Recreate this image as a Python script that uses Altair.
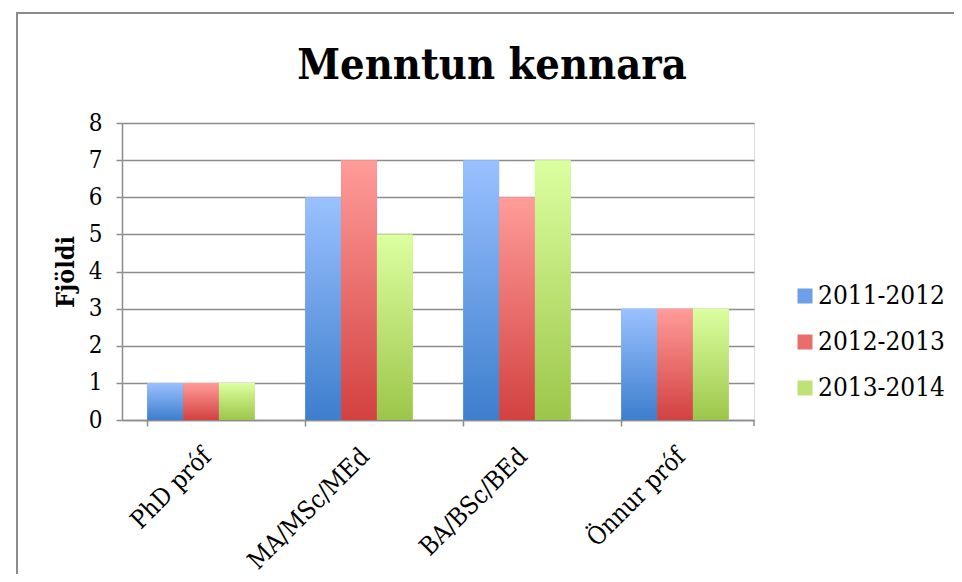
import altair as alt
import pandas as pd

categories = ["PhD próf", "MA/MSc/MEd", "BA/BSc/BEd", "Önnur próf"]
series = ["2011-2012", "2012-2013", "2013-2014"]
values_2011 = [1, 6, 7, 3]
values_2012 = [1, 7, 6, 3]
values_2013 = [1, 5, 7, 3]
y_ticks = [0, 1, 2, 3, 4, 5, 6, 7, 8]
chart_title = "Menntun kennara"

mid_colors = ["#6b9fe6", "#e86e6b", "#bfe277"]
grad_top = ["#9ac1ff", "#ff9c99", "#dcffa0"]
grad_bottom = ["#3d7ecd", "#d24140", "#9cc64a"]

rows = []
for s, vals in zip(series, [values_2011, values_2012, values_2013]):
    for c, v in zip(categories, vals):
        rows.append({"cat": c, "series": s, "value": v})
df = pd.DataFrame(rows)

FONT = "DejaVu Serif Condensed"
GRID = "#8c8c8c"

x_enc = alt.X(
    "cat:N",
    sort=categories,
    scale=alt.Scale(paddingInner=0.32, paddingOuter=0.16),
    axis=alt.Axis(
        title=None,
        labelAngle=-45,
        labelAlign="right",
        labelBaseline="middle",
        labelFont=FONT,
        labelFontSize=25,
        labelColor="black",
        labelPadding=26,
        labelOffset=6,
        bandPosition=0,
        tickSize=6,
        tickColor=GRID,
        tickWidth=1.5,
        domainColor=GRID,
        domainWidth=1.5,
        grid=False,
    ),
)
xo_enc = alt.XOffset("series:N", sort=series, scale=alt.Scale(domain=series, paddingInner=0, paddingOuter=0))
y_enc = alt.Y(
    "value:Q",
    scale=alt.Scale(domain=[0, 8]),
    axis=alt.Axis(
        title="Fjöldi",
        titleFont=FONT,
        titleFontSize=25,
        titleFontWeight="bold",
        titleColor="black",
        titlePadding=10,
        labelFont=FONT,
        labelFontSize=24,
        labelColor="black",
        labelPadding=14,
        labelOverlap=False,
        values=y_ticks,
        tickSize=6,
        tickColor=GRID,
        tickWidth=1.5,
        domainColor=GRID,
        domainWidth=1.5,
        gridColor=GRID,
        gridWidth=1.5,
    ),
)

base = alt.Chart(df).mark_bar().encode(
    x=x_enc,
    xOffset=xo_enc,
    y=y_enc,
    color=alt.Color(
        "series:N",
        sort=series,
        scale=alt.Scale(domain=series, range=mid_colors),
        legend=alt.Legend(
            title=None,
            orient="none",
            legendX=670,
            legendY=160,
            symbolType="square",
            symbolSize=225,
            symbolStrokeWidth=0,
            labelFont=FONT,
            labelFontSize=26,
            labelColor="black",
            labelOffset=0,
            rowPadding=20,
        ),
    ),
)

layers = [base]
for s, top, bot in zip(series, grad_top, grad_bottom):
    grad = alt.Gradient(
        gradient="linear",
        stops=[alt.GradientStop(color=top, offset=0), alt.GradientStop(color=bot, offset=1)],
        x1=0, x2=0, y1=0, y2=1,
    )
    layers.append(
        alt.Chart(df).transform_filter(alt.datum.series == s).mark_bar(fill=grad).encode(
            x=x_enc,
            xOffset=xo_enc,
            y=y_enc,
        )
    )

one = pd.DataFrame({"t": [chart_title]})
frame = alt.Chart(one).mark_rect(
    fill=None, stroke="#8c8c8c", strokeWidth=2
).encode(
    x=alt.value(-105), x2=alt.value(1000), y=alt.value(-110), y2=alt.value(700)
)
title_mark = alt.Chart(one).mark_text(
    font=FONT, fontSize=43, fontWeight="bold", color="black",
    align="center", baseline="alphabetic"
).encode(
    x=alt.value(370), y=alt.value(-44), text="t:N"
)
end_tick = alt.Chart(one).mark_rule(color=GRID, strokeWidth=1.5).encode(
    x=alt.value(632), y=alt.value(297), y2=alt.value(303)
)

chart = alt.layer(frame, *layers, end_tick, title_mark).properties(
    width=632,
    height=297,
    padding={"left": 114, "top": 115, "right": 200, "bottom": 154},
    autosize=alt.AutoSizeParams(type="none"),
).configure_view(stroke=None).configure(background="white")

chart.save("out.html", embed_options={"renderer": "svg", "actions": False})
